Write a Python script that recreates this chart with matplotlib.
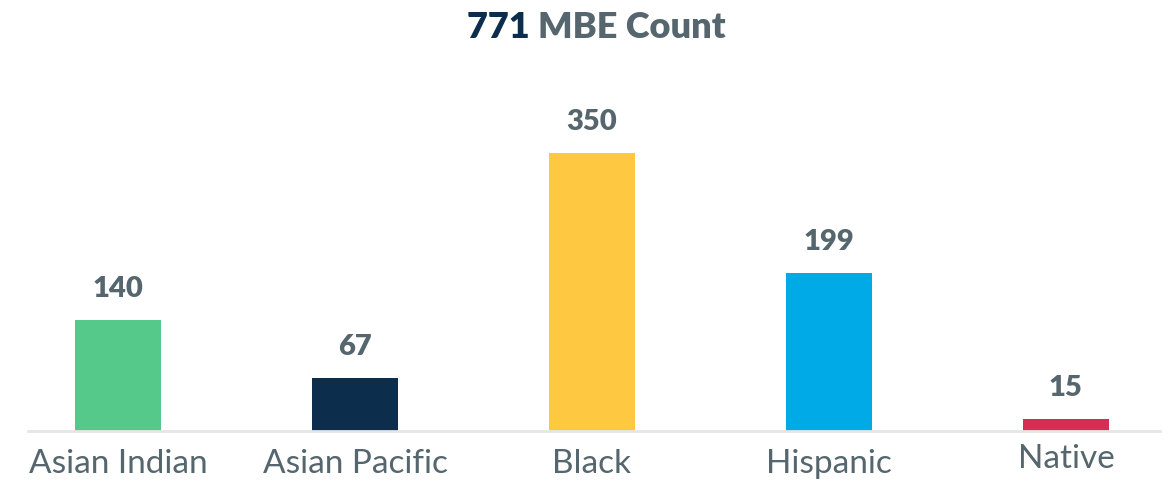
import matplotlib
matplotlib.use("Agg")
import matplotlib.pyplot as plt
import matplotlib.transforms as mtransforms

categories = ["Asian Indian", "Asian Pacific", "Black", "Hispanic", "Native"]
values = [140, 67, 350, 199, 15]
colors = ["#55c98a", "#0c2d4c", "#fec841", "#00aae6", "#d42f53"]
total_label = "771"
title_rest = "MBE Count"

text_gray = "#56666e"
navy = "#0c2d4c"

fig = plt.figure(figsize=(11.76, 4.82), dpi=100)
ax = fig.add_axes([28 / 1176, 51 / 482, (1160 - 28) / 1176, (431 - 60) / 482])

x = list(range(len(categories)))
ax.bar(x, values, width=0.363, color=colors, zorder=2)
ax.set_xlim(-0.38, 4.397)
ax.set_ylim(0, 467)

for xi, v in zip(x, values):
    ax.annotate(str(v), (xi, v), xytext=(0, 13), textcoords="offset points",
                ha="center", va="bottom", fontsize=21, fontweight="heavy",
                family="Lato", color=text_gray)

for s in ["top", "right", "left"]:
    ax.spines[s].set_visible(False)
ax.spines["bottom"].set_color("#e6e6e6")
ax.spines["bottom"].set_linewidth(2)
ax.set_yticks([])
ax.set_xticks(x)
ax.set_xticklabels(categories, fontsize=24, family="Lato", fontweight="normal", color=text_gray)
ax.tick_params(axis="x", length=0, pad=13)
labels = ax.get_xticklabels()
off = mtransforms.ScaledTranslation(0, 5 / 100, fig.dpi_scale_trans)
labels[-1].set_transform(labels[-1].get_transform() + off)

# two-colour title
fig.canvas.draw()
renderer = fig.canvas.get_renderer()
t1 = fig.text(0, 0, total_label + " ", fontsize=26, fontweight="heavy", family="Lato", color=navy)
t2 = fig.text(0, 0, title_rest, fontsize=26, fontweight="heavy", family="Lato", color=text_gray)
w1 = t1.get_window_extent(renderer).width
w2 = t2.get_window_extent(renderer).width
total_w = w1 + w2
cx = 596
y_pix = 482 - 38
x0 = cx - total_w / 2
t1.set_position((x0 / 1176, y_pix / 482))
t2.set_position(((x0 + w1) / 1176, y_pix / 482))

fig.savefig("out.png", dpi=100, facecolor="white")
